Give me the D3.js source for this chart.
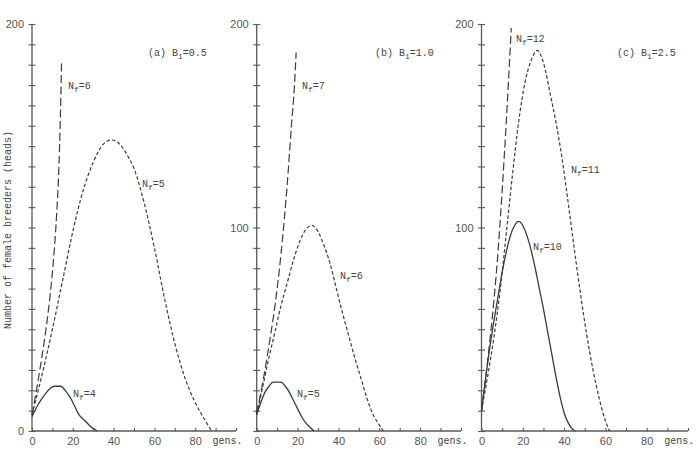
<!DOCTYPE html>
<html>
<head>
<meta charset="utf-8">
<script src="https://cdn.jsdelivr.net/npm/d3@7"></script>
<style>
  body { margin: 0; background: #fff; }
  svg { display: block; }
  .lab { font-family: "Liberation Mono", "DejaVu Sans Mono", monospace; font-size: 10px; fill: #444; }
  .tk { font-family: "Liberation Sans", Arial, sans-serif; font-size: 11px; fill: #555; }
</style>
</head>
<body>
<svg id="chart" width="700" height="462"></svg>
<script>
(function(){
    // x ticks (gens.) and y tick labels per panel
    var xTickLabels = [0, 20, 40, 60, 80];
    var yLabelsA = [0, 200],
        yLabelsB = [100, 200],
        yLabelsC = [100, 200];
    var panelTitles = ['(a)', '(b)', '(c)'];
    var b1Values = ['0.5', '1.0', '2.5'];

    // panel (a) B1=0.5  [gens, heads]
    var aNf6 = [[0,8],[2,19],[4,31],[6,44],[8,59],[10,78],[11,90],[12,105],[13,125],[14,158],[14.5,182]];
    var aNf5 = [[0,8],[5,28],[10,50],[15,74],[20,98],[25,118],[30,132],[35,141],[39,143],[43,141],[47,135],
                [50,129],[55,112],[60,90],[65,65],[70,43],[75,26],[80,14],[85,5],[88,0]];
    var aNf4 = [[0,7],[3,13],[6,17.5],[9,21],[11,22],[14,22],[17,19],[19,16],[21,12],[23,8],[26,5],[29,2],[32,0]];

    // panel (b) B1=1.0
    var bNf7 = [[0,9],[3,24],[6,42],[9,62],[12,88],[15,122],[17,150],[18.5,170],[19.3,186]];
    var bNf6 = [[0,8],[3,22],[6,36],[9,49],[12,62],[15,73],[18,84],[21,93],[24,99],[27,101],[30,98],[33,91],
                [36,82],[39,70],[42,58],[45,47],[48,36],[51,26],[54,16],[57,8],[60,3],[62,0]];
    var bNf5 = [[0,8],[2,14],[4,19],[6,22],[8,24],[10,24],[12,24],[14,22],[16,19],[18,15],[20,11],[22,7],
                [24,4],[26,2],[28,0]];

    // panel (c) B1=2.5
    var cNf12 = [[0,10],[2,26],[4,44],[6,64],[8,88],[10,118],[12,152],[14,190],[14.4,198]];
    var cNf11 = [[0,10],[3,27],[6,46],[9,69],[12,97],[15,126],[18,152],[21,171],[24,182],[27,187],[29,184],
                 [31,177],[33,167],[36,152],[39,134],[42,112],[45,89],[48,67],[51,47],[54,30],[57,16],[60,5],[62,0]];
    var cNf10 = [[0,10],[2,26],[4,41],[6,54],[8,66],[10,78],[12,88],[14,96],[16,101],[18,103],[20,101],[22,96],
                 [24,89],[26,80],[28,70],[30,60],[32,49],[34,38],[36,27],[38,17],[40,9],[42,4],[44,1],[45.5,0]];

    var col = '#3c3c3c',
        axisCol = '#5a5a5a';
    var longDash = '8,3.5',
        shortDash = '3.5,2.2';

    var svg = d3.select('#chart');

    var panels = [
        { x0: 32,  x1: 236, yl: yLabelsA, lines: [
            { d: aNf6, dash: longDash,  lab: '6',  lx: 68,  ly: 89 },
            { d: aNf5, dash: shortDash, lab: '5',  lx: 142, ly: 187 },
            { d: aNf4, dash: null,      lab: '4',  lx: 73,  ly: 397 } ], tx: 148 },
        { x0: 256.7, x1: 461, yl: yLabelsB, lines: [
            { d: bNf7, dash: longDash,  lab: '7',  lx: 302, ly: 89 },
            { d: bNf6, dash: shortDash, lab: '6',  lx: 340, ly: 279 },
            { d: bNf5, dash: null,      lab: '5',  lx: 297, ly: 397 } ], tx: 375 },
        { x0: 481.5, x1: 688, yl: yLabelsC, lines: [
            { d: cNf12, dash: longDash,  lab: '12', lx: 516, ly: 42 },
            { d: cNf11, dash: shortDash, lab: '11', lx: 571, ly: 173 },
            { d: cNf10, dash: null,      lab: '10', lx: 533, ly: 250 } ], tx: 617 }
    ];

    var yTop = 24, yBot = 431;

    panels.forEach(function(p, i){
        var x = d3.scaleLinear().domain([0, 100]).range([p.x0, p.x1]);
        var y = d3.scaleLinear().domain([0, 200]).range([yBot, yTop]);
        var g = svg.append('g');

        // y axis, ticks crossing the line
        var ya = g.append('g')
            .attr('transform', 'translate(' + p.x0 + ',0)')
            .call(d3.axisLeft(y).tickValues(d3.range(0, 201, 10)).tickSize(3).tickPadding(5)
                .tickFormat(function(d){ return p.yl.indexOf(d) >= 0 ? d : ''; }));
        ya.selectAll('.tick line').attr('x2', -3.5).attr('x1', 3.5).attr('stroke', axisCol).attr('stroke-width', 1.1);
        ya.select('.domain').attr('d', 'M0,' + yBot + 'V' + yTop).attr('stroke', axisCol).attr('stroke-width', 1.3);
        ya.selectAll('.tick text').attr('class', 'tk').attr('font-family', null).attr('font-size', null);

        // x axis, ticks upward
        var xa = g.append('g')
            .attr('transform', 'translate(0,' + yBot + ')')
            .call(d3.axisBottom(x).tickValues(d3.range(0, 101, 10)).tickSize(-3).tickPadding(6)
                .tickFormat(function(d){ return xTickLabels.indexOf(d) >= 0 ? d : ''; }));
        xa.selectAll('.tick line').attr('stroke', axisCol).attr('stroke-width', 1.1);
        xa.select('.domain').attr('d', 'M' + p.x0 + ',0H' + p.x1).attr('stroke', axisCol).attr('stroke-width', 1.3);
        xa.selectAll('.tick text').attr('class', 'tk').attr('font-family', null).attr('font-size', null);

        g.append('text').attr('class', 'lab')
            .attr('x', x(88.5)).attr('y', 444)
            .text('gens.');

        var line = d3.line()
            .curve(d3.curveMonotoneX)
            .x(function(d){ return x(d[0]); })
            .y(function(d){ return y(d[1]); });

        p.lines.forEach(function(s){
            g.append('path')
                .datum(s.d)
                .attr('d', line)
                .attr('fill', 'none')
                .attr('stroke', col)
                .attr('stroke-width', s.dash ? 1.2 : 1.3)
                .attr('stroke-dasharray', s.dash);

            var t = g.append('text').attr('class', 'lab').attr('x', s.lx).attr('y', s.ly);
            t.append('tspan').text('N');
            t.append('tspan').attr('dy', 3).attr('font-size', '8px').text('f');
            t.append('tspan').attr('dy', -3).text('=' + s.lab);
        });

        var tt = g.append('text').attr('class', 'lab').attr('x', p.tx).attr('y', 56);
        tt.append('tspan').text(panelTitles[i] + ' B');
        tt.append('tspan').attr('dy', 3).attr('font-size', '8px').text('1');
        tt.append('tspan').attr('dy', -3).text('=' + b1Values[i]);
    });

    svg.append('text').attr('class', 'lab')
        .attr('transform', 'translate(11,230) rotate(-90)')
        .attr('text-anchor', 'middle')
        .text('Number of female breeders (heads)');
})();
</script>
</body>
</html>
